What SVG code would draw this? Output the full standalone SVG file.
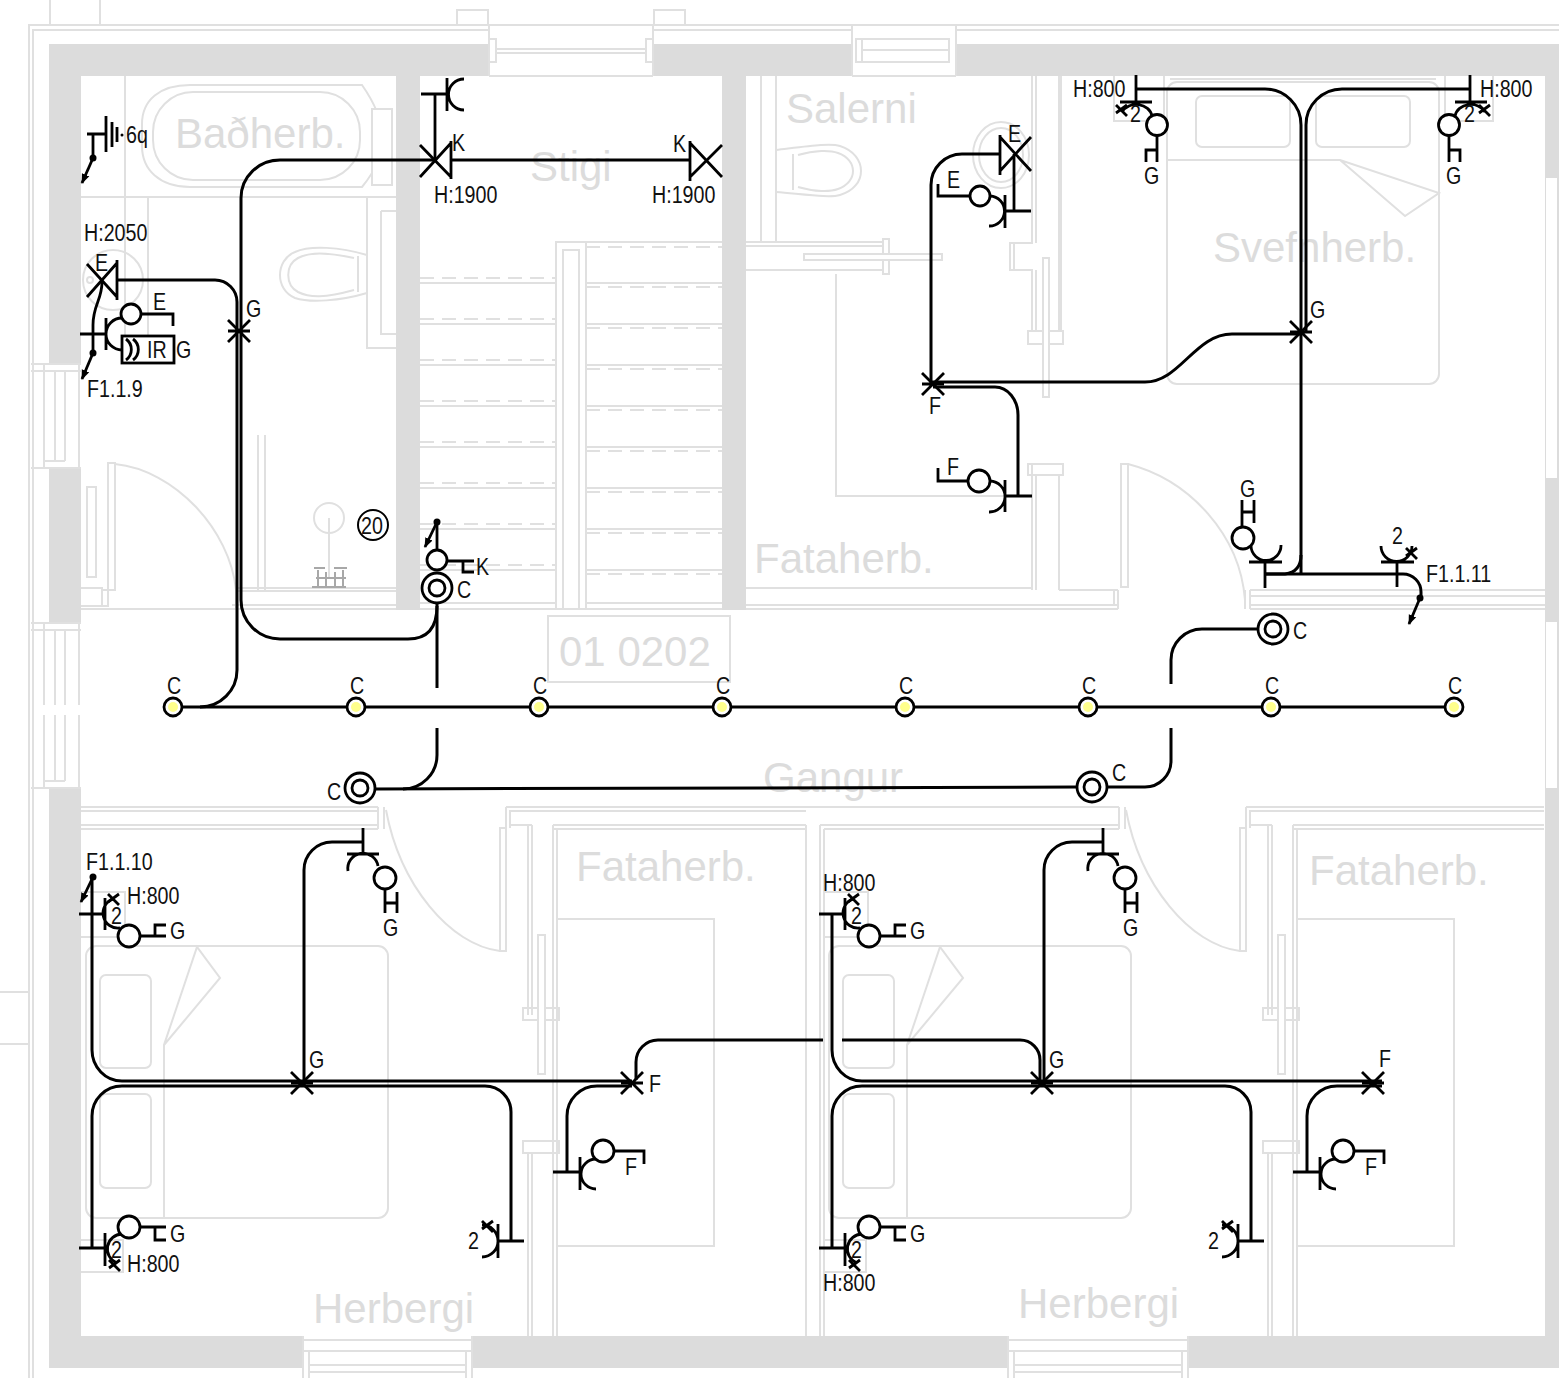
<svg xmlns="http://www.w3.org/2000/svg" xmlns:xlink="http://www.w3.org/1999/xlink" width="1559" height="1378" viewBox="0 0 1559 1378">
<style>
.w{fill:#dcdcdc;stroke:none}
.b{fill:none;stroke:#e0e0e0;stroke-width:2}
.bw{fill:#fff;stroke:#e0e0e0;stroke-width:2}
.d{fill:none;stroke:#e0e0e0;stroke-width:2;stroke-dasharray:14 8}
.r{font-family:"Liberation Sans",Arial,sans-serif;font-size:42px;fill:#dcdcdc}
.t{font-family:"Liberation Sans",Arial,sans-serif;font-size:24px;fill:#111}
.c{fill:none;stroke:#000;stroke-width:3;stroke-linecap:butt}
.s{fill:none;stroke:#000;stroke-width:2.8}
.o{fill:#fff;stroke:#000;stroke-width:2.8}
.lamp{fill:#fff;stroke:#000;stroke-width:2.8}
.y{fill:#ffff8c;stroke:none}
.dot{fill:#000;stroke:none}
</style>
<defs>
<marker id="ah" viewBox="0 0 10 10" refX="9" refY="5" markerWidth="10" markerHeight="10" markerUnits="userSpaceOnUse" orient="auto"><path d="M0,1 L10,5 L0,9 Z" fill="#000"/></marker>
<g id="star"><path class="s" d="M-11,-11 L11,11 M-11,11 L11,-11 M-11,0 H11"/></g>
<g id="ring"><circle class="o" r="15"/><circle class="o" r="8"/></g>
<g id="lampc"><circle class="lamp" r="9"/><circle class="y" r="5"/></g>
<g id="xm"><path class="s" d="M-6,-5 L5,6 M-6,3 L5,-5"/></g>
</defs>
<rect width="1559" height="1378" fill="#fff"/>
<g id="walls">
<rect class="w" x="49" y="44" width="440" height="32"/>
<rect class="w" x="653" y="44" width="199" height="32"/>
<rect class="w" x="956" y="44" width="603" height="32"/>
<rect class="w" x="49" y="44" width="32" height="320"/>
<rect class="w" x="49" y="468" width="32" height="154"/>
<rect class="w" x="49" y="788" width="32" height="580"/>
<rect class="w" x="49" y="1336" width="254" height="32"/>
<rect class="w" x="472" y="1336" width="536" height="32"/>
<rect class="w" x="1188" y="1336" width="371" height="32"/>
<rect class="w" x="1545" y="44" width="14" height="1324"/>
<rect x="1546" y="178" width="11" height="300" fill="#fff"/>
<rect x="1546" y="622" width="11" height="166" fill="#fff"/>
<rect class="w" x="396" y="76" width="24" height="534"/>
<rect class="w" x="722" y="76" width="24" height="534"/>
</g>
<g id="plan">
<path class="b" d="M29,1378 V25 H1559 M33,1378 V30 H489 M653,30 H852 M956,30 H1559 M50,0 V25 M100,0 V25 M0,992 H29 M0,1044 H29"/>
<path class="b" d="M457,25 V10 H488 V25 M654,25 V10 H685 V25"/>
<path class="b" d="M489,76 H653 M852,76 H956 M489,25 V76 M653,25 V76 M852,25 V76 M956,25 V76"/>
<rect class="b" x="489" y="39" width="7" height="23"/><rect class="b" x="646" y="39" width="7" height="23"/><rect class="b" x="496" y="49" width="150" height="4"/>
<rect class="b" x="856" y="39" width="93" height="23"/><path class="b" d="M862,39 V62 M949,39 V62 M862,50 H949 M856,39 H949"/>
<path class="b" d="M31,364 H81 M31,371 H81 M31,468 H81 M44,364 V468 M55,371 V461 M65,371 V461 M79,364 V468 M44,461 H65"/>
<path class="b" d="M31,623 H81 M31,630 H81 M31,788 H81 M44,623 V705 M44,715 V788 M55,630 V705 M55,715 V781 M65,630 V705 M65,715 V781 M79,623 V705 M79,715 V788 M44,781 H65"/>
<path class="b" d="M303,1336 V1378 M472,1336 V1378 M303,1340 H472 M303,1351 H472 M309,1351 V1378 M466,1351 V1378 M309,1365 H466 M309,1372 H466"/>
<path class="b" d="M1008,1336 V1378 M1188,1336 V1378 M1008,1340 H1188 M1008,1351 H1188 M1014,1351 V1378 M1182,1351 V1378 M1014,1365 H1182 M1014,1372 H1182"/>
<path class="b" d="M125,76 V350 M148,197 V350 M81,197 H396"/>
<path class="b" d="M142,124 C142,100 160,85 190,85 H362 C376,105 382,120 382,136 C382,155 376,170 362,187 H190 C160,187 142,170 142,146 Z"/>
<rect class="b" x="153" y="92" width="207" height="88" rx="40"/>
<rect class="bw" x="372" y="109" width="20" height="76"/>
<path class="b" d="M367,197 V348 H396 M381,211 H396 M381,211 V334 H396"/>
<path class="b" d="M367,255 C340,247 310,245 295,252 C275,260 275,290 295,298 C310,303 340,301 367,293 M358,256 V292 M354,258 C325,252 310,252 298,258 C285,265 285,285 298,292 C310,298 325,298 354,290"/>
<circle class="b" cx="113" cy="280" r="30"/><circle class="b" cx="90" cy="280" r="3"/>
<path class="b" d="M258,435 V590 M265,435 V590"/>
<rect class="b" x="87" y="487" width="9" height="90"/>
<rect class="b" x="108" y="463" width="7" height="127"/>
<path class="b" d="M115,464 C175,470 230,530 236,590"/>
<path class="b" d="M81,588 H102 V606 H81 M102,590 H108 V606 H102 M236,590 V610 M236,588 H396 M236,591 H396 M232,605 H396 M81,609 H396"/>
<circle class="b" cx="329" cy="518" r="15"/><path class="b" d="M329,518 V578"/>
<path d="M314,568 H325 M334,568 H347 M318,570 V586 M326,572 V586 M335,572 V586 M343,570 V586 M312,587 H346 M316,578 H346" fill="none" stroke="#a8a8a8" stroke-width="2"/>
<path class="b" d="M556,610 V242 H722 M563,610 V250 H579 V610 M586,242 V610"/>
<path class="d" d="M586,247 H722"/>
<g id="steps">
<path class="d" d="M420,278 H556 M420,319 H556 M420,360 H556 M420,401 H556 M420,442 H556 M420,483 H556 M420,524 H556 M420,565 H556"/>
<path class="b" d="M420,283 H556 M420,324 H556 M420,365 H556 M420,406 H556 M420,447 H556 M420,488 H556 M420,529 H556 M420,570 H556"/>
<path class="d" d="M586,287 H722 M586,328 H722 M586,369 H722 M586,410 H722 M586,451 H722 M586,492 H722 M586,533 H722 M586,574 H722"/>
<path class="b" d="M586,283 H722 M586,324 H722 M586,365 H722 M586,406 H722 M586,447 H722 M586,488 H722 M586,529 H722 M586,570 H722"/>
</g>
<path class="b" d="M420,603 H556 M420,609 H722 M586,603 H722"/>
<path class="b" d="M761,76 V242 M776,76 V242 M746,242 H883 M746,270 H883 M746,246 H883"/>
<rect class="b" x="883" y="239" width="6" height="35"/>
<rect class="bw" x="804" y="254" width="138" height="6"/>
<path class="b" d="M776,150 C810,146 830,143 840,146 C868,155 868,187 840,195 C830,198 810,195 776,192 M793,154 V190 M798,155 C815,150 830,150 838,153 C858,160 858,182 838,189 C830,192 815,192 798,187"/>
<path class="b" d="M836,274 V496 H1032"/>
<ellipse class="b" cx="1001" cy="155" rx="28" ry="33"/><ellipse class="b" cx="1001" cy="155" rx="22" ry="27"/>
<path class="b" d="M1032,76 V243 H1010 V270 H1032 V331 M1036,76 V243 M1036,270 V331 M1059,76 V331 M1061,76 V331 M1014,243 V270"/>
<rect class="b" x="1028" y="331" width="35" height="13"/>
<rect class="bw" x="1043" y="258" width="6" height="139"/>
<path class="b" d="M1032,463 V590 M1028,464 H1063 V475 H1028 Z M1059,475 V590 M1036,475 V590 M746,588 H1032 M1059,590 H1118 M746,605 H1118 M746,609 H1118 M1118,590 V609 M1114,590 V605"/>
<rect class="b" x="1121" y="464" width="7" height="123"/>
<path class="b" d="M1128,464 C1190,480 1240,535 1245,600"/>
<path class="b" d="M1245,590 V609 M1250,590 V609 M1250,590 H1545 M1250,596 H1545 M1250,605 H1545 M1250,609 H1545"/>
<rect class="b" x="1167" y="82" width="272" height="302" rx="10"/>
<path class="b" d="M1170,79 H1436"/>
<rect class="b" x="1196" y="96" width="94" height="51" rx="6"/><rect class="b" x="1316" y="96" width="94" height="51" rx="6"/>
<path class="b" d="M1167,160 H1340 L1439,193 L1405,216 L1340,160"/>
<path class="b" d="M1114,76 V121 H1164 V76 M1445,76 V121 H1493 V76"/>
<rect class="b" x="548" y="616" width="182" height="66"/>
<path class="b" d="M81,807 H378 M81,811 H378 M81,825 H378 M81,829 H378 M378,807 V829 M384,807 V829"/>
<path class="b" d="M386,810 C400,885 450,945 500,951"/>
<rect class="b" x="500" y="828" width="6" height="123"/>
<path class="b" d="M506,828 V807 M510,828 V811 H806 M506,807 H1119 M510,825 H532 M553,825 H806 M553,829 H806 M553,825 V1336 M557,829 V1336 M528,825 V1015 M532,825 V1015 M806,825 V1336 M820,825 V1336 M824,829 V1336 M820,825 H1106 M824,829 H1106"/>
<rect class="b" x="523" y="1008" width="36" height="12"/>
<rect class="bw" x="538" y="935" width="7" height="139"/>
<rect class="b" x="523" y="1141" width="36" height="12"/>
<path class="b" d="M528,1153 V1336 M532,1153 V1336"/>
<rect class="b" x="557" y="919" width="157" height="327"/>
<rect class="b" x="86" y="946" width="302" height="272" rx="10"/>
<rect class="b" x="100" y="975" width="51" height="93" rx="6"/><rect class="b" x="100" y="1094" width="51" height="94" rx="6"/>
<path class="b" d="M164,1218 V1045 L197,947 L220,978 L164,1045"/>
<path class="b" d="M81,892 H125 V937 H81 M81,1240 H123 V1272 H81"/>
<path class="b" d="M1106,807 H1119 M1106,825 H1119 M1106,829 H1119 M1119,807 V829 M1125,807 V829"/>
<path class="b" d="M1126,810 C1140,885 1190,945 1240,951"/>
<rect class="b" x="1240" y="828" width="6" height="123"/>
<path class="b" d="M1246,828 V807 M1250,828 V811 H1544 M1246,807 H1544 M1250,825 H1272 M1293,825 H1544 M1293,829 H1544 M1293,825 V1336 M1297,829 V1336 M1268,825 V1015 M1272,825 V1015"/>
<rect class="b" x="1263" y="1008" width="36" height="12"/>
<rect class="bw" x="1278" y="935" width="7" height="139"/>
<rect class="b" x="1263" y="1141" width="36" height="12"/>
<path class="b" d="M1268,1153 V1336 M1272,1153 V1336"/>
<rect class="b" x="1297" y="919" width="157" height="327"/>
<rect class="b" x="829" y="946" width="302" height="272" rx="10"/>
<rect class="b" x="843" y="975" width="51" height="93" rx="6"/><rect class="b" x="843" y="1094" width="51" height="94" rx="6"/>
<path class="b" d="M907,1218 V1045 L940,947 L963,978 L907,1045"/>
<path class="b" d="M824,892 H868 V937 H824 M824,1240 H866 V1272 H824"/>
</g>
<g id="room-labels">
<text class="r" x="175" y="148">Baðherb.</text>
<text class="r" x="786" y="123">Salerni</text>
<text class="r" x="530" y="181">Stigi</text>
<text class="r" x="1213" y="262">Svefnherb.</text>
<text class="r" x="754" y="573">Fataherb.</text>
<text class="r" x="559" y="666">01 0202</text>
<text class="r" x="763" y="792">Gangur</text>
<text class="r" x="576" y="881">Fataherb.</text>
<text class="r" x="1309" y="885">Fataherb.</text>
<text class="r" x="313" y="1323">Herbergi</text>
<text class="r" x="1018" y="1318">Herbergi</text>
</g>
<g id="connectors">
<path class="c" d="M451,160 H690"/>
<path class="c" d="M435,160 H280 A39,38 0 0 0 241,198 V600 A39,39 0 0 0 280,639 H408 Q437,639 437,606"/>
<path class="c" d="M118,280 H215 A22,22 0 0 1 237,302 V670 A37,37 0 0 1 200,707"/>
<path class="c" d="M180,707 H1445"/>
<path class="c" d="M437,603 V688 M437,728 V755 A34,34 0 0 1 403,789"/>
<path class="c" d="M375,789 L1077,787"/>
<path class="c" d="M1107,787 H1145 A26,26 0 0 0 1171,761 V728 M1171,684 V660 A31,31 0 0 1 1202,629 H1258"/>
<path class="c" d="M1136,89 H1265 A36,36 0 0 1 1301,125 V575"/>
<path class="c" d="M1470,89 H1342 A36,36 0 0 0 1306,125 V332"/>
<path class="c" d="M932,382 H1145 C1180,382 1195,334 1232,334 H1301"/>
<path class="c" d="M933,387 H995 A23,28 0 0 1 1018,415 V496"/>
<path class="c" d="M931,382 V185 A31,31 0 0 1 962,154 H1000"/>
<path class="c" d="M1265,574 H1285 Q1301,572 1301,555"/>
<path class="c" d="M1265,574 H1403 A18,18 0 0 1 1421,592 V598"/>
<path class="c" d="M92,877 V1050 A30,31 0 0 0 122,1081 H632"/>
<path class="c" d="M92,1248 V1116 A30,30 0 0 1 122,1086 H485 A26,26 0 0 1 511,1112 V1241"/>
<path class="c" d="M363,842 H332 A28,28 0 0 0 304,870 V1083"/>
<path class="c" d="M636,1080 V1062 A22,22 0 0 1 658,1040 H823 M842,1040 H1020 A20,20 0 0 1 1040,1060 V1083"/>
<path class="c" d="M567,1172 V1116 A30,30 0 0 1 597,1086 H632"/>
<path class="c" d="M832,914 V1050 A30,31 0 0 0 862,1081 H1382"/>
<path class="c" d="M832,1248 V1116 A30,30 0 0 1 862,1086 H1225 A26,26 0 0 1 1251,1112 V1241"/>
<path class="c" d="M1103,842 H1072 A28,28 0 0 0 1044,870 V1083"/>
<path class="c" d="M1307,1172 V1116 A30,30 0 0 1 1337,1086 H1382"/>
</g>
<g id="lamps">
<use href="#lampc" x="173" y="707"/><use href="#lampc" x="356" y="707"/><use href="#lampc" x="539" y="707"/><use href="#lampc" x="722" y="707"/><use href="#lampc" x="905" y="707"/><use href="#lampc" x="1088" y="707"/><use href="#lampc" x="1271" y="707"/><use href="#lampc" x="1454" y="707"/>
<text class="t" transform="translate(167 694) scale(.82 1)">C</text><text class="t" transform="translate(350 694) scale(.82 1)">C</text><text class="t" transform="translate(533 694) scale(.82 1)">C</text><text class="t" transform="translate(716 694) scale(.82 1)">C</text><text class="t" transform="translate(899 694) scale(.82 1)">C</text><text class="t" transform="translate(1082 694) scale(.82 1)">C</text><text class="t" transform="translate(1265 694) scale(.82 1)">C</text><text class="t" transform="translate(1448 694) scale(.82 1)">C</text>
</g>
<g id="rings">
<use href="#ring" x="437" y="588"/><text class="t" transform="translate(457 598) scale(.82 1)">C</text>
<use href="#ring" x="360" y="788"/><text class="t" transform="translate(327 800) scale(.82 1)">C</text>
<use href="#ring" x="1092" y="787"/><text class="t" transform="translate(1112 781) scale(.82 1)">C</text>
<use href="#ring" x="1273" y="629"/><text class="t" transform="translate(1293 639) scale(.82 1)">C</text>
</g>
<g id="junctions">
<use href="#star" x="239" y="331"/><text class="t" transform="translate(246 317) scale(.82 1)">G</text>
<use href="#star" x="1301" y="332"/><text class="t" transform="translate(1310 318) scale(.82 1)">G</text>
<use href="#star" x="933" y="384"/><text class="t" transform="translate(929 414) scale(.82 1)">F</text>
<use href="#star" x="302" y="1083"/><text class="t" transform="translate(309 1068) scale(.82 1)">G</text>
<use href="#star" x="632" y="1083"/><text class="t" transform="translate(649 1092) scale(.82 1)">F</text>
<use href="#star" x="1042" y="1083"/><text class="t" transform="translate(1049 1068) scale(.82 1)">G</text>
<use href="#star" x="1373" y="1083"/><text class="t" transform="translate(1379 1067) scale(.82 1)">F</text>
</g>
<g id="node-6q">
<path class="s" d="M87,134 H106 M93,134 V158 M106,116 V152 M112,122 V147 M117,127 V142"/>
<circle class="dot" cx="93" cy="158" r="3.5"/><circle class="dot" cx="122" cy="135" r="1.5"/>
<path class="s" d="M93,158 L82,183" marker-end="url(#ah)"/>
<text class="t" transform="translate(126 143) scale(.82 1)">6q</text>
</g>
<g id="node-stigi">
<path class="s" d="M421,94 H447 M447,78 V111 M435,94 V160 M464,79 A15,15 0 0 0 464,110"/>
<path class="s" d="M420,145 L451,177 M420,177 L451,143 M451,141 V179"/>
<text class="t" transform="translate(452 151) scale(.82 1)">K</text>
<text class="t" transform="translate(434 203) scale(.82 1)">H:1900</text>
<path class="s" d="M690,141 V181 M690,143 L722,177 M690,177 L722,145"/>
<text class="t" transform="translate(673 152) scale(.82 1)">K</text>
<text class="t" transform="translate(652 203) scale(.82 1)">H:1900</text>
</g>
<g id="node-bath">
<path class="s" d="M87,264 L117,297 M87,297 L117,263 M117,260 V300"/>
<text class="t" transform="translate(95 271) scale(.82 1)">E</text>
<text class="t" transform="translate(84 241) scale(.82 1)">H:2050</text>
<path class="s" d="M102,282 C102,300 93,305 93,325 V353"/>
<circle class="dot" cx="93" cy="353" r="3.5"/>
<path class="s" d="M93,353 L82,379" marker-end="url(#ah)"/>
<text class="t" transform="translate(87 397) scale(.82 1)">F1.1.9</text>
<path class="s" d="M80,334 H106 M106,318 V350 M122,318 A15,15 0 0 0 122,350"/>
<circle class="o" cx="131" cy="314" r="10"/>
<path class="s" d="M141,314 H173 V326"/>
<text class="t" transform="translate(153 310) scale(.82 1)">E</text>
<rect class="o" x="122" y="336" width="52" height="27"/>
<path class="s" d="M126,339 A13,13 0 0 1 126,360 M133,339 A13,13 0 0 1 133,360"/>
<text class="t" transform="translate(147 358) scale(.82 1)">IR</text>
<text class="t" transform="translate(176 358) scale(.82 1)">G</text>
</g>
<g id="node-20"><circle cx="373" cy="525" r="15" fill="#fff" stroke="#000" stroke-width="2"/><text class="t" transform="translate(361 534) scale(.82 1)">20</text></g>
<g id="node-stair-switch">
<circle class="o" cx="437" cy="560" r="10"/>
<path class="s" d="M447,561 H474 M463,561 V572 H474 M437,550 V522"/>
<circle class="dot" cx="437" cy="522" r="3.5"/>
<path class="s" d="M437,522 L425,547" marker-end="url(#ah)"/>
<text class="t" transform="translate(476 575) scale(.82 1)">K</text>
</g>
<g id="node-salerni">
<path class="s" d="M1000,135 V175 M1000,137 L1031,171 M1000,171 L1031,137 M1014,154 V211 M1005,211 H1031 M1005,195 V228 M989,226 A15,15 0 0 0 990,196"/>
<text class="t" transform="translate(1008 142) scale(.82 1)">E</text>
<circle class="o" cx="980" cy="196" r="10"/>
<path class="s" d="M970,196 H938 V184"/>
<text class="t" transform="translate(947 188) scale(.82 1)">E</text>
<circle class="o" cx="979" cy="481" r="11"/>
<path class="s" d="M968,481 H938 V468 M1005,480 V512 M1005,496 H1032 M989,512 A15,15 0 0 0 990,481"/>
<text class="t" transform="translate(947 475) scale(.82 1)">F</text>
</g>
<g id="node-bed-left">
<path class="s" d="M1136,75 V102 M1120,102 H1152 M1122,112 A16,14 0 0 1 1152,116"/>
<use href="#xm" x="1122" y="110"/>
<text class="t" transform="translate(1130 122) scale(.82 1)">2</text>
<circle class="o" cx="1157" cy="125" r="10.5"/>
<path class="s" d="M1157,136 V162 M1157,150 H1146 V162"/>
<text class="t" transform="translate(1144 184) scale(.82 1)">G</text>
<text class="t" transform="translate(1073 97) scale(.82 1)">H:800</text>
</g>
<g id="node-bed-right">
<path class="s" d="M1470,75 V102 M1455,102 H1487 M1455,116 A16,14 0 0 1 1485,112"/>
<use href="#xm" x="1485" y="110"/>
<text class="t" transform="translate(1464 122) scale(.82 1)">2</text>
<circle class="o" cx="1449" cy="125" r="10.5"/>
<path class="s" d="M1449,136 V162 M1449,150 H1460 V162"/>
<text class="t" transform="translate(1446 184) scale(.82 1)">G</text>
<text class="t" transform="translate(1480 97) scale(.82 1)">H:800</text>
</g>
<g id="node-door-g">
<path class="s" d="M1249,562 H1282 M1265,562 V588 M1251,546 A15,15 0 0 0 1281,545 M1242,500 V527 M1254,500 V523 M1242,512 H1254"/>
<circle class="o" cx="1243" cy="538" r="11"/>
<text class="t" transform="translate(1240 497) scale(.82 1)">G</text>
</g>
<g id="node-f1111">
<path class="s" d="M1381,562 H1414 M1397,562 V587 M1381,546 A15,15 0 0 0 1412,546"/>
<use href="#xm" x="1412" y="553"/>
<text class="t" transform="translate(1392 544) scale(.82 1)">2</text>
<circle class="dot" cx="1420" cy="598" r="3.5"/>
<path class="s" d="M1420,598 L1409,624" marker-end="url(#ah)"/>
<text class="t" transform="translate(1426 582) scale(.82 1)">F1.1.11</text>
</g>
<g id="node-r1-top">
<text class="t" transform="translate(86 870) scale(.82 1)">F1.1.10</text>
<circle class="dot" cx="93" cy="877" r="3.5"/>
<path class="s" d="M93,877 L81,902" marker-end="url(#ah)"/>
<path class="s" d="M79,914 H105 M105,898 V930 M113,899 A15,15 0 0 0 120,928"/>
<use href="#xm" x="114" y="899"/>
<text class="t" transform="translate(111 924) scale(.82 1)">2</text>
<text class="t" transform="translate(127 904) scale(.82 1)">H:800</text>
<circle class="o" cx="129" cy="936" r="11"/>
<path class="s" d="M140,936 H166 M155,936 V925 H166"/>
<text class="t" transform="translate(170 939) scale(.82 1)">G</text>
</g>
<g id="node-r1-door">
<path class="s" d="M363,828 V854 M347,854 H379 M348,871 A15,15 0 0 1 378,866 M385,889 V913 M397,892 V913 M385,903 H397"/>
<circle class="o" cx="385" cy="878" r="11"/>
<text class="t" transform="translate(383 936) scale(.82 1)">G</text>
</g>
<g id="node-r1-bottom">
<path class="s" d="M79,1248 H105 M105,1233 V1266 M122,1234 A15,15 0 0 0 117,1263"/>
<use href="#xm" x="115" y="1265"/>
<text class="t" transform="translate(111 1258) scale(.82 1)">2</text>
<text class="t" transform="translate(127 1272) scale(.82 1)">H:800</text>
<circle class="o" cx="129" cy="1227" r="11"/>
<path class="s" d="M140,1227 H166 M155,1227 V1240 H166"/>
<text class="t" transform="translate(170 1242) scale(.82 1)">G</text>
</g>
<g id="node-r1-2">
<path class="s" d="M498,1241 H524 M498,1224 V1258 M482,1257 A15,15 0 0 0 482,1225"/>
<use href="#xm" x="488" y="1226"/>
<text class="t" transform="translate(468 1249) scale(.82 1)">2</text>
</g>
<g id="node-r1-f">
<path class="s" d="M553,1172 H580 M580,1157 V1190 M596,1189 A15,15 0 0 1 596,1159 M614,1151 H644 V1164"/>
<circle class="o" cx="603" cy="1151" r="11"/>
<text class="t" transform="translate(625 1175) scale(.82 1)">F</text>
</g>
<g id="node-r2-top">
<path class="s" d="M819,914 H845 M845,898 V930 M853,899 A15,15 0 0 0 860,928"/>
<use href="#xm" x="854" y="899"/>
<text class="t" transform="translate(851 924) scale(.82 1)">2</text>
<text class="t" transform="translate(823 891) scale(.82 1)">H:800</text>
<circle class="o" cx="869" cy="936" r="11"/>
<path class="s" d="M880,936 H906 M895,936 V925 H906"/>
<text class="t" transform="translate(910 939) scale(.82 1)">G</text>
</g>
<g id="node-r2-door">
<path class="s" d="M1103,828 V854 M1087,854 H1119 M1088,871 A15,15 0 0 1 1118,866 M1125,889 V913 M1137,892 V913 M1125,903 H1137"/>
<circle class="o" cx="1125" cy="878" r="11"/>
<text class="t" transform="translate(1123 936) scale(.82 1)">G</text>
</g>
<g id="node-r2-bottom">
<path class="s" d="M819,1248 H845 M845,1233 V1266 M862,1234 A15,15 0 0 0 857,1263"/>
<use href="#xm" x="855" y="1265"/>
<text class="t" transform="translate(851 1258) scale(.82 1)">2</text>
<text class="t" transform="translate(823 1291) scale(.82 1)">H:800</text>
<circle class="o" cx="869" cy="1227" r="11"/>
<path class="s" d="M880,1227 H906 M895,1227 V1240 H906"/>
<text class="t" transform="translate(910 1242) scale(.82 1)">G</text>
</g>
<g id="node-r2-2">
<path class="s" d="M1238,1241 H1264 M1238,1224 V1258 M1222,1257 A15,15 0 0 0 1222,1225"/>
<use href="#xm" x="1228" y="1226"/>
<text class="t" transform="translate(1208 1249) scale(.82 1)">2</text>
</g>
<g id="node-r2-f">
<path class="s" d="M1293,1172 H1320 M1320,1157 V1190 M1336,1189 A15,15 0 0 1 1336,1159 M1354,1151 H1384 V1164"/>
<circle class="o" cx="1343" cy="1151" r="11"/>
<text class="t" transform="translate(1365 1175) scale(.82 1)">F</text>
</g>
</svg>
